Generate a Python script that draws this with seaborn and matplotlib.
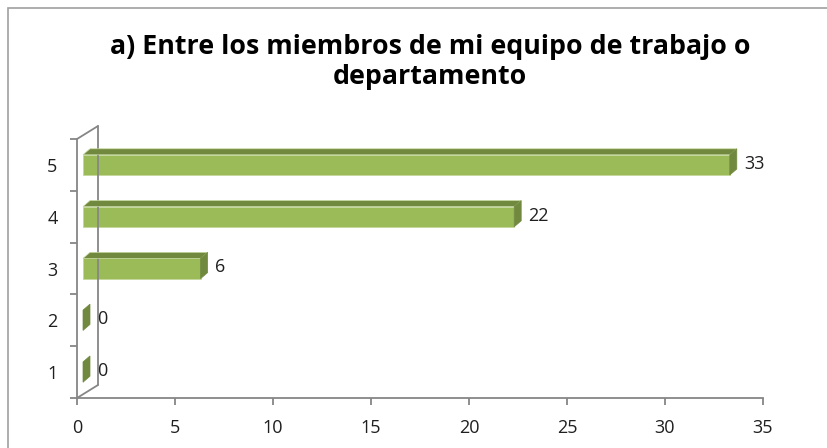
import matplotlib
matplotlib.use("Agg")
import matplotlib.pyplot as plt
import seaborn as sns
import pandas as pd
from matplotlib.patches import Polygon, Rectangle
from matplotlib.transforms import ScaledTranslation, IdentityTransform
from matplotlib.lines import Line2D

# Data
categories = ["5", "4", "3", "2", "1"]
values = [33, 22, 6, 0, 0]
x_ticks = [0, 5, 10, 15, 20, 25, 30, 35]
title = "a) Entre los miembros de mi equipo de trabajo o\ndepartamento"

FRONT = "#9BBB59"
DARK = "#71893F"
EDGE = "#C4D79B"
AXIS = "#868686"
FONT = ["Open Sans", "DejaVu Sans"]
TXT = "#1F1F1F"

sns.set_theme(style="white")
plt.rcParams["font.family"] = FONT

W, H, DPI = 827, 448, 100
fig = plt.figure(figsize=(W / DPI, H / DPI), dpi=DPI)
ax = fig.add_axes([77 / W, 1 - 398 / H, (763 - 77) / W, (398 - 139) / H])

df = pd.DataFrame({"cat": categories, "val": values})
sns.barplot(data=df, x="val", y="cat", order=categories, orient="h",
            color=FRONT, saturation=1, width=0.39, ax=ax,
            edgecolor=EDGE, linewidth=0.6)

ax.set_xlim(0, 35)
ax.set_ylim(4.5, -0.5)
ax.set_xticks(x_ticks)
ax.set_xticklabels([str(t) for t in x_ticks], fontsize=13, color=TXT)
ax.set_xlabel("")
ax.set_ylabel("")
for lab in ax.get_yticklabels():
    lab.set_fontsize(13)
    lab.set_color(TXT)

for s in ["top", "right"]:
    ax.spines[s].set_visible(False)
for s in ["left", "bottom"]:
    ax.spines[s].set_color(AXIS)
    ax.spines[s].set_linewidth(1.3)

# y ticks at category boundaries (minor), labels at centres
ax.set_yticks([i - 0.5 for i in range(len(categories) + 1)], minor=True)
ax.tick_params(axis="y", which="both", left=True)
ax.tick_params(axis="x", which="major", bottom=True)
ax.tick_params(axis="y", which="major", length=0, pad=14)
ax.tick_params(axis="y", which="minor", length=5, color=AXIS, width=1.3, direction="out")
ax.tick_params(axis="x", which="major", length=5, color=AXIS, width=1.3, direction="out", pad=10)
ax.grid(False)

# shift bars right slightly (3D depth centre)
shift = ScaledTranslation(6 / DPI, 0, fig.dpi_scale_trans)
for p in ax.patches:
    p.set_transform(ax.transData + shift)

fig.canvas.draw()

# 3D wall lines (offset of back wall)
wdx, wdy = 21, 13
bl = ax.transAxes.transform((0, 0))
tl = ax.transAxes.transform((0, 1))
wall_lines = [
    [(bl[0], bl[1]), (bl[0] + wdx, bl[1] + wdy)],
    [(tl[0], tl[1]), (tl[0] + wdx, tl[1] + wdy)],
    [(bl[0] + wdx, bl[1] + wdy), (tl[0] + wdx, tl[1] + wdy)],
]
for seg in wall_lines:
    (x0, y0), (x1, y1) = seg
    fig.add_artist(Line2D([x0, x1], [y0, y1], transform=IdentityTransform(),
                          color=AXIS, lw=1.3, zorder=1))

# bar depth faces
bdx, bdy = 7, 6
for p, v in zip(ax.patches, values):
    bb = p.get_window_extent()
    x0, x1, y0, y1 = bb.x0, bb.x1, bb.y0, bb.y1
    top = Polygon([(x0, y1), (x1, y1), (x1 + bdx, y1 + bdy), (x0 + bdx, y1 + bdy)],
                  closed=True, transform=IdentityTransform(), facecolor=DARK,
                  edgecolor=EDGE, lw=0.5, zorder=3)
    side = Polygon([(x1, y0), (x1, y1), (x1 + bdx, y1 + bdy), (x1 + bdx, y0 + bdy)],
                   closed=True, transform=IdentityTransform(), facecolor=DARK,
                   edgecolor=DARK, lw=0.5, zorder=3)
    fig.add_artist(top)
    fig.add_artist(side)
    fig.text((x1 + bdx + 7) / W, ((y0 + y1) / 2 + 1) / H, str(v),
             ha="left", va="center", fontsize=13, color=TXT)

fig.text(430 / W, 1 - 62 / H, title, ha="center", va="center",
         fontsize=19.3, fontweight="bold", color="black", linespacing=1.22)

fig.add_artist(Rectangle((8 / W, -0.05), 1.0, 1 - 8 / H + 0.05,
                         transform=fig.transFigure, fill=False,
                         edgecolor="#A0A0A0", lw=1.2))

fig.savefig("out.png", dpi=DPI)
